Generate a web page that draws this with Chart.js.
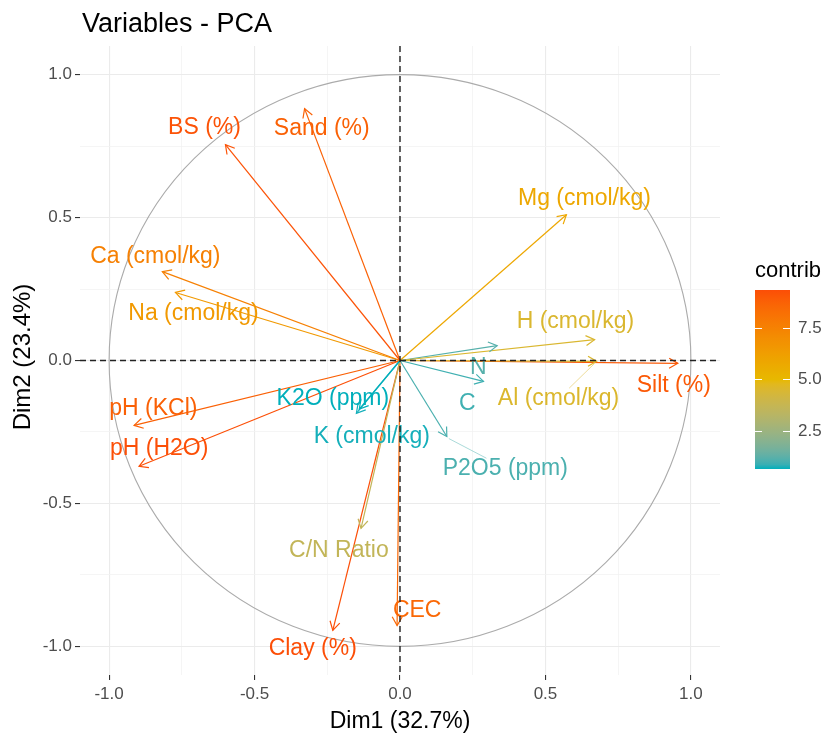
<!DOCTYPE html>
<html><head><meta charset="utf-8">
<script src="https://cdn.jsdelivr.net/npm/chart.js@4/dist/chart.umd.min.js"></script>
<style>html,body{margin:0;padding:0;background:#fff}canvas{display:block}</style>
</head><body>
<canvas id="c" width="827" height="733"></canvas>
<script>
// ---- data ----
const variables = ["BS (%)","Sand (%)","Ca (cmol/kg)","Na (cmol/kg)","Mg (cmol/kg)","H (cmol/kg)","N","Al (cmol/kg)","Silt (%)","C","P2O5 (ppm)","K2O (ppm)","K (cmol/kg)","pH (KCl)","pH (H2O)","C/N Ratio","Clay (%)","CEC"];
const dim1 = [-0.600,-0.328,-0.817,-0.772,0.572,0.669,0.334,0.676,0.955,0.287,0.161,-0.140,-0.150,-0.914,-0.897,-0.134,-0.231,-0.010];
const dim2 = [0.755,0.881,0.311,0.238,0.510,0.073,0.052,-0.003,-0.010,-0.073,-0.266,-0.170,-0.185,-0.227,-0.370,-0.587,-0.944,-0.927];
const contrib = [9.23,8.78,7.59,6.48,5.83,4.50,1.13,4.54,9.05,0.90,1.01,0.62,0.66,8.81,9.35,3.60,9.37,8.53];
// text-label anchors (ggrepel result), in data units
const labelDim1 = [-0.672,-0.269,-0.841,-0.710,0.634,0.603,0.269,0.545,0.941,0.231,0.362,-0.231,-0.097,-0.848,-0.828,-0.210,-0.300,0.059];
const labelDim2 = [0.815,0.811,0.364,0.164,0.566,0.136,-0.024,-0.133,-0.087,-0.150,-0.378,-0.133,-0.266,-0.168,-0.308,-0.664,-1.007,-0.874];
// labels that ggrepel joined to their arrow with a segment
const labelSegment = [false,false,false,false,false,false,false,true,false,false,true,false,false,false,false,false,false,false];
const majorTicks = [-1.0,-0.5,0.0,0.5,1.0];
const minorTicks = [-0.75,-0.25,0.25,0.75];
const legendTicks = [2.5,5.0,7.5];
const gradientCols = ["#00AFBB","#E7B800","#FC4E07"];
const chartTitle = "Variables - PCA";
const xTitle = "Dim1 (32.7%)";
const yTitle = "Dim2 (23.4%)";
const legendTitle = "contrib";

// ---- colour helpers (CIELAB interpolation like ggplot) ----
function hex2rgb(h){h=h.replace('#','');return [0,2,4].map(i=>parseInt(h.substr(i,2),16));}
function rgb2lab(c){
  const l=c.map(v=>{v/=255;return v<=0.04045?v/12.92:Math.pow((v+0.055)/1.055,2.4);});
  const X=(0.4124564*l[0]+0.3575761*l[1]+0.1804375*l[2])/0.95047;
  const Y=(0.2126729*l[0]+0.7151522*l[1]+0.0721750*l[2]);
  const Z=(0.0193339*l[0]+0.1191920*l[1]+0.9503041*l[2])/1.08883;
  const f=t=>t>0.008856?Math.cbrt(t):7.787*t+16/116;
  const fx=f(X),fy=f(Y),fz=f(Z);
  return [116*fy-16,500*(fx-fy),200*(fy-fz)];
}
function lab2rgbArr(L){
  const fy=(L[0]+16)/116, fx=fy+L[1]/500, fz=fy-L[2]/200;
  const inv=f=>{const t=f*f*f;return t>0.008856?t:(f-16/116)/7.787;};
  const X=inv(fx)*0.95047,Y=inv(fy),Z=inv(fz)*1.08883;
  const r=3.2404542*X-1.5371385*Y-0.4985314*Z;
  const g=-0.9692660*X+1.8760108*Y+0.0415560*Z;
  const b=0.0556434*X-0.2040259*Y+1.0572252*Z;
  const gm=v=>{v=v<=0.0031308?12.92*v:1.055*Math.pow(v,1/2.4)-0.055;return Math.round(Math.max(0,Math.min(1,v))*255);};
  return [gm(r),gm(g),gm(b)];
}
const labStops = gradientCols.map(h=>rgb2lab(hex2rgb(h)));
const cMin = Math.min(...contrib), cMax = Math.max(...contrib);
function rgbAt(t){
  t=Math.max(0,Math.min(1,t));
  const n=labStops.length-1, s=Math.min(n-1,Math.floor(t*n)), u=t*n-s;
  const a=labStops[s], b=labStops[s+1];
  return lab2rgbArr([a[0]+(b[0]-a[0])*u,a[1]+(b[1]-a[1])*u,a[2]+(b[2]-a[2])*u]);
}
const colorAt = (t,al=1) => { const c=rgbAt(t); return `rgba(${c[0]},${c[1]},${c[2]},${al})`; };
const colorFor = (v,al=1) => colorAt((v-cMin)/(cMax-cMin),al);
const colors = contrib.map(v=>colorFor(v));

const FONT = "'Liberation Sans', Arial, sans-serif";
const LABEL_PX = 23;

const datasets = variables.map((v,i)=>({
  label: v,
  data: [{x:0,y:0},{x:dim1[i],y:dim2[i]}],
  showLine: true,
  borderColor: colors[i],
  borderWidth: 1.2,
  pointRadius: 0,
  fill: false
}));

const isMajor = v => majorTicks.some(m=>Math.abs(m-v)<1e-9);
const allTicks = [...majorTicks,...minorTicks].sort((a,b)=>a-b);

function axisCfg(isX){
  return {
    type:'linear', min:-1.1, max:1.1,
    afterBuildTicks: s => { s.ticks = allTicks.map(v=>({value:v})); },
    afterFit: s => { if(isX) s.height = 58; else s.width = 80; },
    border:{display:false},
    grid:{
      color: c => isMajor(c.tick.value) ? '#ebebeb' : '#f3f3f3',
      lineWidth: c => isMajor(c.tick.value) ? 1.1 : 0.8,
      tickColor: c => isMajor(c.tick.value) ? '#333333' : 'rgba(0,0,0,0)',
      tickLength: 5, tickWidth: 1.1, drawTicks:true
    },
    ticks:{
      autoSkip:false, maxRotation:0, minRotation:0,
      padding: isX ? 4 : 3,
      color:'#4d4d4d',
      font:{family:FONT,size:17},
      callback: v => isMajor(v) ? v.toFixed(1) : ''
    }
  };
}

const pcaPlugin = {
  id:'pca',
  beforeDatasetsDraw(chart){
    const {ctx, scales:{x,y}} = chart;
    const cx=x.getPixelForValue(0), cy=y.getPixelForValue(0);
    const rx=x.getPixelForValue(1)-cx, ry=cy-y.getPixelForValue(1);
    ctx.save();
    ctx.beginPath(); ctx.ellipse(cx,cy,rx,ry,0,0,Math.PI*2);
    ctx.strokeStyle='#ababab'; ctx.lineWidth=1.1; ctx.stroke();
    ctx.restore();
  },
  afterDatasetsDraw(chart){
    const {ctx, scales:{x,y}, chartArea:ca} = chart;
    ctx.save();
    // arrow heads
    chart.data.datasets.forEach((ds,i)=>{
      const pts = chart.getDatasetMeta(i).data;
      const p0=pts[0], p1=pts[1];
      const ang=Math.atan2(p1.y-p0.y,p1.x-p0.x), L=10, a=Math.PI/6;
      ctx.beginPath();
      ctx.moveTo(p1.x-L*Math.cos(ang-a),p1.y-L*Math.sin(ang-a));
      ctx.lineTo(p1.x,p1.y);
      ctx.lineTo(p1.x-L*Math.cos(ang+a),p1.y-L*Math.sin(ang+a));
      ctx.strokeStyle=ds.borderColor; ctx.lineWidth=1.2; ctx.stroke();
    });
    // labels (+ repel segments)
    ctx.font = `${LABEL_PX}px ${FONT}`;
    ctx.textAlign='center'; ctx.textBaseline='middle';
    variables.forEach((v,i)=>{
      const lx=x.getPixelForValue(labelDim1[i]), ly=y.getPixelForValue(labelDim2[i]);
      if(labelSegment[i]){
        const pts=chart.getDatasetMeta(i).data, tip=pts[1];
        const hw=ctx.measureText(v).width/2+2, hh=LABEL_PX*0.45;
        const dx=tip.x-lx, dy=tip.y-ly;
        const s=Math.min(Math.abs(hw/(dx||1e-9)),Math.abs(hh/(dy||1e-9)));
        ctx.beginPath(); ctx.moveTo(tip.x+2*Math.sign(-dx),tip.y+2*Math.sign(-dy)); ctx.lineTo(lx+dx*s,ly+dy*s);
        ctx.strokeStyle=colorFor(contrib[i],0.6); ctx.lineWidth=0.8; ctx.stroke();
      }
      ctx.fillStyle=colors[i];
      ctx.fillText(v, lx, ly);
    });
    // dashed reference lines
    ctx.setLineDash([6,4]); ctx.strokeStyle='#222'; ctx.lineWidth=1.4;
    const x0=x.getPixelForValue(0), y0=y.getPixelForValue(0);
    ctx.beginPath(); ctx.moveTo(ca.left,y0); ctx.lineTo(ca.right,y0); ctx.stroke();
    ctx.beginPath(); ctx.moveTo(x0,ca.top); ctx.lineTo(x0,ca.bottom); ctx.stroke();
    ctx.restore();
  },
  afterDraw(chart){
    const {ctx, chartArea:ca} = chart;
    ctx.save();
    // title
    ctx.fillStyle='#000'; ctx.textAlign='left'; ctx.textBaseline='alphabetic';
    ctx.font=`27px ${FONT}`; ctx.fillText(chartTitle, 82, 32);
    // axis titles
    ctx.font=`23px ${FONT}`; ctx.textAlign='center';
    ctx.fillText(xTitle,(ca.left+ca.right)/2,728);
    ctx.save(); ctx.translate(23,357); ctx.rotate(-Math.PI/2);
    ctx.font=`24px ${FONT}`;
    ctx.textBaseline='middle'; ctx.fillText(yTitle,0,0); ctx.restore();
    // legend
    ctx.textAlign='left'; ctx.font=`22px ${FONT}`; ctx.fillStyle='#000';
    ctx.fillText(legendTitle,755,277);
    const bx=755,bw=35,bTop=290,bBot=469;
    const g=ctx.createLinearGradient(0,bBot,0,bTop);
    for(let k=0;k<=40;k++){ g.addColorStop(k/40,colorAt(k/40)); }
    ctx.fillStyle=g; ctx.fillRect(bx,bTop,bw,bBot-bTop);
    const vy=v=>bBot-(v-cMin)/(cMax-cMin)*(bBot-bTop);
    ctx.strokeStyle='#ffffff'; ctx.lineWidth=1;
    ctx.font=`17px ${FONT}`; ctx.textBaseline='middle';
    legendTicks.forEach(t=>{
      const yy=Math.round(vy(t))+0.5;
      ctx.beginPath(); ctx.moveTo(bx,yy); ctx.lineTo(bx+7,yy); ctx.moveTo(bx+bw-7,yy); ctx.lineTo(bx+bw,yy); ctx.stroke();
      ctx.fillStyle='#4d4d4d'; ctx.fillText(t.toFixed(1),798,yy);
    });
    ctx.restore();
  }
};

new Chart(document.getElementById('c'),{
  type:'scatter',
  data:{datasets},
  options:{
    responsive:false, animation:false, devicePixelRatio:1,
    layout:{padding:{top:46,right:107,left:0,bottom:0}},
    plugins:{legend:{display:false},tooltip:{enabled:false},title:{display:false}},
    scales:{x:axisCfg(true),y:axisCfg(false)}
  },
  plugins:[pcaPlugin]
});
</script>
</body></html>
